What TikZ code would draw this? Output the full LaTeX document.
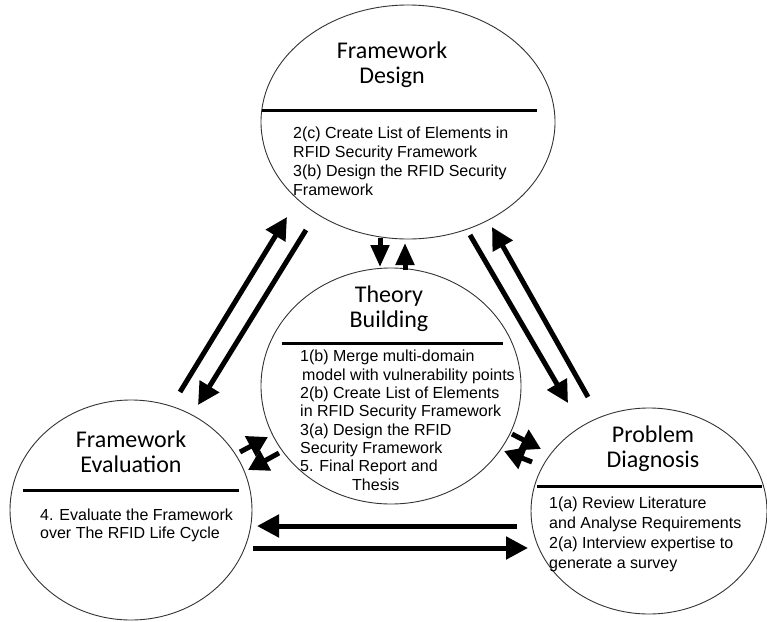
\documentclass[tikz,border=0pt]{standalone}
\usepackage{fontspec}
\setmainfont{Liberation Sans}
\newfontfamily\titlefont{Carlito}
\usetikzlibrary{shapes.geometric,arrows.meta}

\tikzset{
  phase/.style={ellipse, draw=black!80, line width=0.9pt, inner sep=0pt},
  divider/.style={line width=3pt},
  % multi-line nodes: the base anchor sits on the baseline of the last line
  heading/.style={font=\titlefont\fontsize{24pt}{25pt}\selectfont, align=center, anchor=base, inner sep=0pt},
  body/.style={font=\fontsize{16pt}{19pt}\selectfont, align=left, anchor=base west, inner sep=0pt},
  flow/.style={line width=5pt, -{Triangle[length=22pt,width=22pt]}},
  shortflow/.style={line width=5pt, -{Triangle[length=22pt,width=18pt]}},
  sideflow/.style={line width=5pt, -{Triangle[length=20pt,width=22pt]}}
}

\begin{document}
\begin{tikzpicture}[x=1pt,y=-1pt]
\useasboundingbox (0,0) rectangle (767,621);

% the four phases
\node[phase, minimum width=294pt, minimum height=234pt] (fd) at (408,122) {};
\node[phase, minimum width=260pt, minimum height=236pt] (tb) at (391,386) {};
\node[phase, minimum width=242pt, minimum height=220pt] (fe) at (131,510) {};
\node[phase, minimum width=236pt, minimum height=206pt] (pd) at (649,511) {};

% headings
\node[heading] (fdt) at (392,83) {Framework\\Design};
\node[heading] (tbt) at (389,327) {Theory\\Building};
\node[heading] (fet) at (131,472) {Framework\\Evaluation};
\node[heading] (pdt) at (653,467) {Problem\\Diagnosis};

% dividers under the headings
\draw[divider] (262,110) -- (537,110);
\draw[divider] (282,343) -- (503,343);
\draw[divider] (23,490) -- (239,490);
\draw[divider] (537,486) -- (762,486);

% activities of each phase
\node[body] (fdb) at (293,195) {2(c) Create List of Elements in\\RFID Security Framework\\3(b) Design the RFID Security\\Framework};
\node[body, font=\fontsize{16pt}{18.3pt}\selectfont] (tbb) at (300,490) {1(b) Merge multi-domain\\\hspace*{2pt}model with vulnerability points\\2(b) Create List of Elements\\in RFID Security Framework\\3(a) Design the RFID\\Security Framework\\5. Final Report and\\\hspace*{52pt}Thesis};
\node[body, font=\fontsize{16pt}{18pt}\selectfont] (feb) at (40,538) {4. Evaluate the Framework\\over The RFID Life Cycle};
\node[body, font=\fontsize{16pt}{19.7pt}\selectfont] (pdb) at (549,568) {1(a) Review Literature\\and Analyse Requirements\\2(a) Interview expertise to\\generate a survey};

% connector end points
\coordinate (fe-up-s) at (180,392);  \coordinate (fe-up-e) at (287,217);
\coordinate (fd-dn-s) at (306,230);  \coordinate (fd-dn-e) at (198,405);
\coordinate (fd-pd-s) at (470,235);  \coordinate (fd-pd-e) at (568,403);
\coordinate (pd-fd-s) at (588,397);  \coordinate (pd-fd-e) at (492,227);
\coordinate (fd-tb-s) at (380,238);  \coordinate (fd-tb-e) at (380,267);
\coordinate (tb-fd-s) at (405,270);  \coordinate (tb-fd-e) at (405,243);
\coordinate (fe-tb-s) at (240,452);  \coordinate (fe-tb-e) at (268,437);
\coordinate (tb-fe-s) at (279,453);  \coordinate (tb-fe-e) at (248,470);
\coordinate (tb-pd-s) at (512,434);  \coordinate (tb-pd-e) at (541,449);
\coordinate (pd-tb-s) at (532,462);  \coordinate (pd-tb-e) at (504,451);
\coordinate (pd-fe-s) at (517,526);  \coordinate (pd-fe-e) at (257,526);
\coordinate (fe-pd-s) at (253,548);  \coordinate (fe-pd-e) at (528,548);

% flows between the phases
\draw[flow] (fe-up-s) -- (fe-up-e);
\draw[flow] (fd-dn-s) -- (fd-dn-e);
\draw[flow] (fd-pd-s) -- (fd-pd-e);
\draw[flow] (pd-fd-s) -- (pd-fd-e);
\draw[flow] (pd-fe-s) -- (pd-fe-e);
\draw[flow] (fe-pd-s) -- (fe-pd-e);
\draw[shortflow] (fd-tb-s) -- (fd-tb-e);
\draw[shortflow] (tb-fd-s) -- (tb-fd-e);
\draw[sideflow] (fe-tb-s) -- (fe-tb-e);
\draw[sideflow] (tb-fe-s) -- (tb-fe-e);
\draw[sideflow] (tb-pd-s) -- (tb-pd-e);
\draw[sideflow] (pd-tb-s) -- (pd-tb-e);
\end{tikzpicture}
\end{document}
